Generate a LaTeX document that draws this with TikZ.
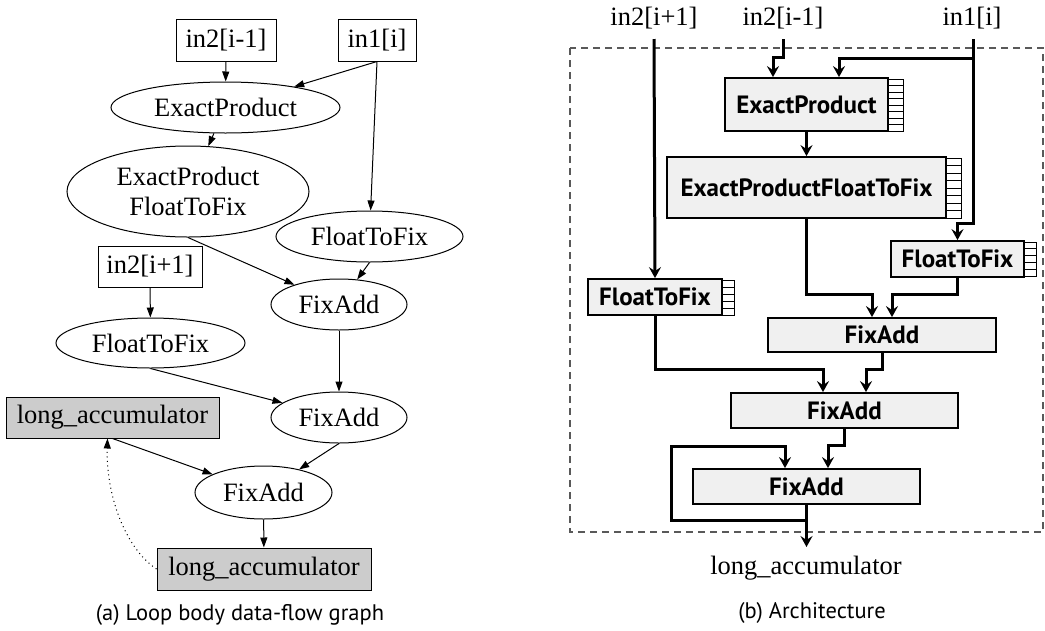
\documentclass[tikz,border=0pt]{standalone}
\usepackage{fontspec}
\setmainfont{Liberation Serif}
\setsansfont{PT Sans}
\usetikzlibrary{shapes.geometric,arrows.meta}
\begin{document}
\begin{tikzpicture}[x=1pt,y=-1pt,
  serif/.style={font=\fontsize{26.5}{30}\selectfont},
  lbox/.style={draw, line width=1pt, inner sep=0pt, serif},
  gbox/.style={lbox, fill=black!20},
  ell/.style={ellipse, draw, line width=1pt, inner sep=0pt, serif},
  larr/.style={line width=1pt, -{Triangle[length=10pt,width=7pt]}},
  dotarr/.style={line width=1pt, dash pattern=on 1pt off 3.5pt, -{Triangle[length=10pt,width=7pt]}},
  fbox/.style={draw, line width=1.8pt, fill=black!6, inner sep=0pt,
     font=\sffamily\bfseries\fontsize{25}{28}\selectfont},
  warr/.style={line width=3pt, -{Stealth[length=11pt,width=12pt,inset=4pt]}},
  captext/.style={font=\sffamily\fontsize{22.5}{26}\selectfont}
]
\useasboundingbox (0,0) rectangle (1045,630);

% ---------------- (a) data-flow graph ----------------
\node[lbox, minimum width=100pt, minimum height=42pt] (a1) at (226,40) {in2[i-1]};
\node[lbox, minimum width=78pt, minimum height=42pt] (a2) at (377,40) {in1[i]};
\node[ell, minimum width=229pt, minimum height=51pt] (ep1) at (225.5,107.5) {ExactProduct};
\node[ell, minimum width=242pt, minimum height=91pt, align=center] (epf1) at (188,191.5) {ExactProduct\\FloatToFix};
\node[ell, minimum width=187pt, minimum height=51pt] (ftf1) at (369.5,236.5) {FloatToFix};
\node[lbox, minimum width=104pt, minimum height=41pt] (a3) at (150,266.5) {in2[i+1]};
\node[ell, minimum width=189pt, minimum height=50pt] (ftf2) at (150.5,343) {FloatToFix};
\node[ell, minimum width=136pt, minimum height=51pt] (fa1l) at (339,304.5) {FixAdd};
\node[ell, minimum width=136pt, minimum height=51pt] (fa2l) at (339,417.5) {FixAdd};
\node[ell, minimum width=137pt, minimum height=53pt] (fa3l) at (263.5,492.5) {FixAdd};
\node[gbox, minimum width=213pt, minimum height=41pt] (la1) at (112.5,417.5) {long\_accumulator};
\node[gbox, minimum width=214pt, minimum height=42pt] (la2) at (264,569) {long\_accumulator};
\node[captext] (capa) at (240,615) {(a) Loop body data-flow graph};

\draw[larr] (a1) -- (ep1);
\draw[larr] (a2.south) -- (ep1);
\draw[larr] (a2.south) -- (ftf1);
\draw[larr] (ep1) -- (epf1);
\draw[larr] (epf1.south) -- (fa1l);
\draw[larr] (ftf1.south) -- (fa1l);
\draw[larr] (a3) -- (ftf2);
\draw[larr] (fa1l) -- (fa2l);
\draw[larr] (ftf2.south) -- (fa2l);
\draw[larr] (fa2l.south) -- (fa3l);
\draw[larr] (la1.south) -- (fa3l);
\draw[larr] (fa3l) -- (la2);
\draw[dotarr] (la2.west) .. controls (125,548) and (106,495) .. ([xshift=-5pt]la1.south);

% ---------------- (b) architecture ----------------
\draw[line width=1.4pt, black!65, dash pattern=on 7pt off 5pt] (570,48) rectangle (1043,532);

\node[serif] (i1) at (654,18) {in2[i+1]};
\node[serif] (i2) at (783,18) {in2[i-1]};
\node[serif] (i3) at (972,18) {in1[i]};

\node[fbox, minimum width=163pt, minimum height=53pt] (ep) at (806.5,104.5) {ExactProduct};
\node[fbox, minimum width=279pt, minimum height=61pt] (epf) at (806.5,187.5) {ExactProductFloatToFix};
\node[fbox, minimum width=133pt, minimum height=36pt] (ftfr) at (957.5,259) {FloatToFix};
\node[fbox, minimum width=134pt, minimum height=36pt] (ftfl) at (655,297) {FloatToFix};
\node[fbox, minimum width=228pt, minimum height=34pt] (fa1) at (882,335) {FixAdd};
\node[fbox, minimum width=227pt, minimum height=35pt] (fa2) at (844.5,410.5) {FixAdd};
\node[fbox, minimum width=227pt, minimum height=35pt] (fa3) at (806.5,486.5) {FixAdd};
\node[serif] (out) at (806,568) {long\_accumulator};
\node[captext] (capb) at (812,613) {(b) Architecture};

% register stacks
\foreach \x/\w/\yt/\yb/\n in {888/15/79/131/8, 946/15/158/218/8, 1024/12/242/276/5, 722/12/280/315/5} {
  \draw[line width=0.8pt] (\x,\yt) rectangle (\x+\w,\yb);
  \pgfmathtruncatemacro\m{\n-1}
  \foreach \k in {1,...,\m} {
    \draw[line width=0.8pt] (\x,{\yt+(\yb-\yt)*\k/\n}) -- (\x+\w,{\yt+(\yb-\yt)*\k/\n});
  }
}

% wires
\coordinate (br) at (973,58);
\draw[warr] (i1.south |- 0,39) -- (ftfl.north);
\draw[warr] (i2.south |- 0,39) -- (783,57) -| ([xshift=-33.5pt]ep.north);
\draw[warr] (973,39) -- (973,223) -| (ftfr.north);
\draw[warr] (br) -| ([xshift=32.5pt]ep.north);
\draw[warr] (ep.south) -- (epf.north);
\draw[warr] (epf.south) -- (806.5,294) -| ([xshift=-10pt]fa1.north);
\draw[warr] (ftfr.south) -- (957.5,294) -| ([xshift=10pt]fa1.north);
\draw[warr] (ftfl.south) -- (655,369) -| ([xshift=-21.5pt]fa2.north);
\draw[warr] (fa1.south) -- (882,369) -| ([xshift=21.5pt]fa2.north);
\draw[warr] (fa2.south) -- (844.5,445) -| ([xshift=21.5pt]fa3.north);
\draw[warr] (fa3.south) -- (806.5,520) -- (671,520) -- (671,446) -| ([xshift=-21.5pt]fa3.north);
\draw[warr] (fa3.south) -- (806.5,547);
\end{tikzpicture}
\end{document}
